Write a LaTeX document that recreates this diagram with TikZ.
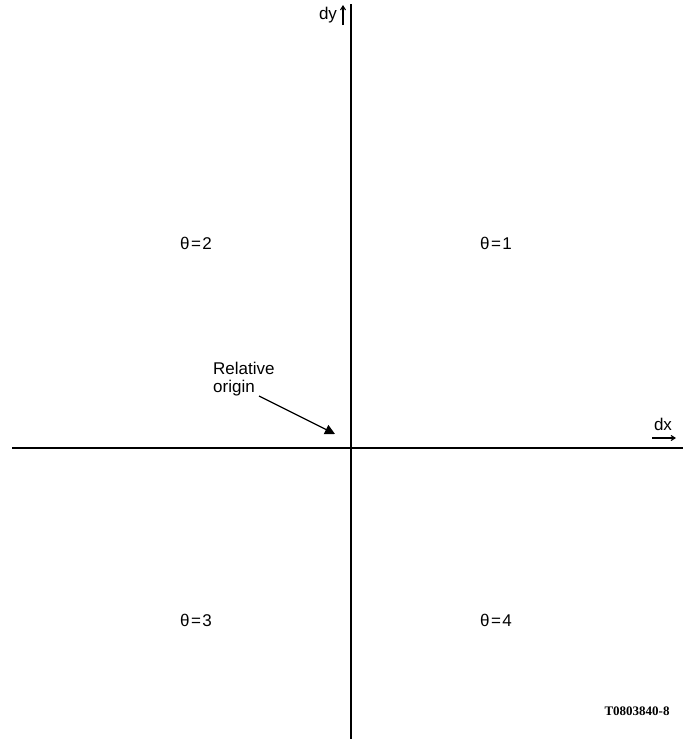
\documentclass[tikz,border=0pt]{standalone}
\usepackage{fontspec}
\setmainfont{Liberation Sans}
\newfontfamily\tagfont{Liberation Serif}
\usetikzlibrary{arrows.meta,positioning}
\tikzset{
  qdaxis/.style={line width=1.6pt, draw=black},
  qdlab/.style={font=\fontsize{17}{18}\selectfont, inner sep=1pt},
  qdsmall/.style={-{Straight Barb[length=4pt,width=5pt]}, line width=1.1pt},
  qdarr/.style={-{Triangle[length=10pt,width=10pt]}, line width=1.3pt}
}
\newcommand{\qdtheta}[1]{θ\kern1.5pt=\kern1.5pt#1}
\begin{document}
\begin{tikzpicture}[x=1pt, y=-1pt]
  \useasboundingbox (0,0) rectangle (685,740);
  % axes
  \coordinate (ytop) at (351,4);
  \coordinate (ybot) at (351,739);
  \coordinate (xleft) at (12,448);
  \coordinate (xright) at (683,448);
  \coordinate (orig) at (335,434);
  \draw[qdaxis] (ytop) -- (ybot);
  \draw[qdaxis] (xleft) -- (xright);
  % axis labels
  \node[qdlab] (dy) at (328,15) {dy};
  \coordinate (dyarrlo) at (343,25);
  \coordinate (dyarrhi) at (343,5);
  \draw[qdsmall] (dyarrlo) -- (dyarrhi);
  \node[qdlab] (dx) at (663,424) {dx};
  \coordinate (dxarrl) at (652,438);
  \coordinate (dxarrr) at (676,438);
  \draw[qdsmall] (dxarrl) -- (dxarrr);
  % quadrants
  \node[qdlab] (q2) at (196,243) {\qdtheta{2}};
  \node[qdlab] (q1) at (496,243) {\qdtheta{1}};
  \node[qdlab] (q3) at (196,620) {\qdtheta{3}};
  \node[qdlab] (q4) at (496,620) {\qdtheta{4}};
  % relative origin
  \node[qdlab, align=left, anchor=north west] (rel) at (212,361) {Relative\\origin};
  \coordinate (relend) at (259,396);
  \draw[qdarr] (relend) -- (orig);
  \node[font=\tagfont\bfseries\fontsize{13}{15}\selectfont] (tag) at (637,711) {T0803840-8};
\end{tikzpicture}
\end{document}
